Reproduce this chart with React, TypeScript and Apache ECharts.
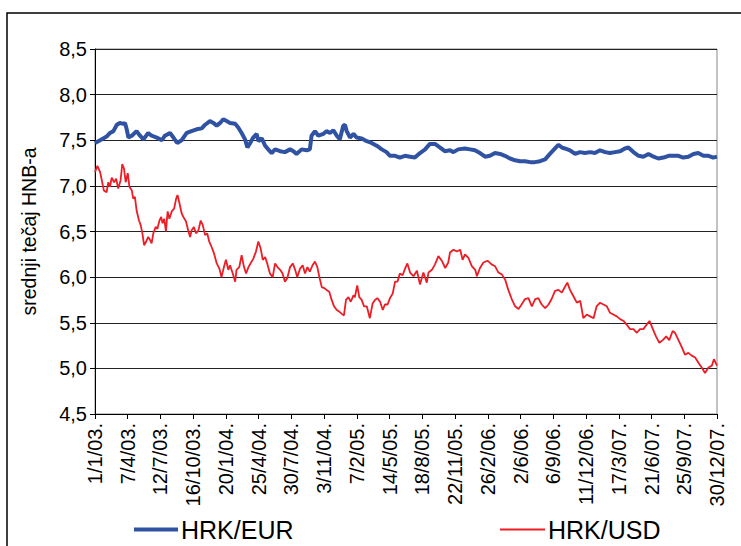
import React, { useEffect, useRef } from "react";
import * as echarts from "echarts";

// Days counted from 1/1/2003
const eurDays = [0,15,34,44,54,64,73,83,88,93,98,108,122,132,142,156,166,181,196,205,220,230,241,254,269,283,298,313,323,337,347,357,367,376,386,396,411,420,430,440,447,455,464,474,479,489,499,508,518,528,543,557,572,582,591,606,621,630,635,645,655,670,679,689,699,709,718,728,733,738,748,758,767,782,797,811,826,841,855,865,880,894,909,924,938,953,968,982,997,1012,1026,1041,1051,1065,1085,1100,1114,1129,1144,1158,1173,1188,1202,1217,1232,1246,1261,1276,1290,1305,1320,1334,1349,1359,1369,1378,1393,1408,1422,1437,1452,1466,1481,1496,1510,1525,1540,1554,1564,1579,1594,1608,1623,1638,1652,1667,1682,1696,1711,1725,1740,1755,1769,1784,1799,1813,1824];
const eurRates = [7.47,7.50,7.54,7.58,7.60,7.67,7.69,7.68,7.69,7.62,7.53,7.55,7.60,7.55,7.51,7.58,7.55,7.53,7.50,7.55,7.58,7.53,7.47,7.50,7.58,7.60,7.62,7.63,7.67,7.71,7.69,7.66,7.69,7.73,7.71,7.69,7.68,7.64,7.58,7.51,7.42,7.47,7.53,7.57,7.49,7.52,7.44,7.40,7.36,7.40,7.38,7.37,7.40,7.38,7.35,7.40,7.39,7.40,7.55,7.60,7.55,7.57,7.60,7.58,7.61,7.55,7.51,7.66,7.67,7.60,7.53,7.57,7.53,7.52,7.49,7.47,7.44,7.40,7.37,7.33,7.33,7.31,7.33,7.32,7.31,7.36,7.40,7.46,7.46,7.42,7.38,7.39,7.37,7.40,7.41,7.40,7.39,7.36,7.32,7.33,7.36,7.35,7.33,7.30,7.28,7.27,7.27,7.26,7.26,7.27,7.29,7.35,7.41,7.45,7.42,7.41,7.39,7.35,7.37,7.36,7.37,7.36,7.39,7.37,7.36,7.37,7.38,7.41,7.42,7.37,7.33,7.32,7.35,7.32,7.30,7.31,7.33,7.33,7.33,7.31,7.32,7.35,7.36,7.33,7.33,7.31,7.32];

const usdDays = [0,7,15,20,26,34,39,44,49,56,62,68,75,80,85,90,96,101,108,112,117,122,129,134,139,144,150,156,161,166,171,178,183,189,194,198,203,208,213,218,225,232,238,242,247,254,259,267,274,279,283,290,296,303,310,316,323,329,335,342,349,357,365,371,378,384,391,396,404,411,415,423,430,437,443,450,456,464,472,479,486,492,499,505,513,521,528,535,543,550,557,564,572,580,587,593,601,609,616,623,630,638,645,652,658,665,672,679,687,694,701,709,717,723,730,736,743,750,758,762,769,775,782,789,797,806,814,821,828,836,844,850,858,865,873,880,887,894,902,909,916,924,934,944,953,963,973,978,988,997,1007,1017,1027,1036,1041,1051,1061,1071,1078,1085,1095,1105,1115,1120,1129,1139,1151,1163,1173,1183,1193,1203,1212,1222,1232,1242,1251,1261,1271,1281,1291,1300,1310,1320,1330,1339,1349,1359,1369,1379,1385,1393,1403,1413,1423,1432,1442,1452,1462,1471,1481,1491,1501,1510,1520,1530,1540,1550,1559,1569,1579,1589,1598,1608,1618,1626,1636,1645,1655,1665,1675,1684,1694,1701,1711,1721,1730,1740,1750,1760,1770,1779,1789,1799,1809,1815,1824];
const usdRates = [7.15,7.22,7.15,7.06,6.95,6.93,7.04,6.99,7.09,7.04,7.08,6.97,7.06,7.24,7.19,7.04,7.14,6.99,6.95,6.86,6.88,6.73,6.62,6.57,6.48,6.35,6.39,6.44,6.41,6.37,6.48,6.55,6.53,6.62,6.66,6.59,6.64,6.50,6.72,6.64,6.72,6.75,6.86,6.90,6.82,6.70,6.66,6.61,6.50,6.44,6.51,6.55,6.48,6.51,6.62,6.57,6.46,6.48,6.39,6.33,6.26,6.15,6.09,6.00,6.11,6.19,6.08,6.13,6.04,5.95,6.08,6.11,6.24,6.11,6.04,6.11,6.15,6.20,6.28,6.39,6.31,6.19,6.22,6.15,6.04,6.00,6.15,6.11,6.08,6.04,5.95,5.99,6.11,6.15,6.08,6.00,6.09,6.13,6.04,6.11,6.06,6.13,6.17,6.11,6.00,5.89,5.88,5.86,5.84,5.75,5.68,5.64,5.62,5.60,5.58,5.75,5.78,5.73,5.80,5.78,5.91,5.78,5.75,5.68,5.68,5.55,5.71,5.75,5.77,5.73,5.64,5.70,5.70,5.77,5.82,5.95,5.95,6.04,6.02,6.09,6.15,6.05,6.01,6.07,5.92,6.05,5.94,6.05,6.08,6.14,6.23,6.18,6.10,6.16,6.27,6.30,6.28,6.30,6.19,6.25,6.21,6.12,6.08,6.01,6.10,6.16,6.18,6.14,6.12,6.05,6.03,5.97,5.86,5.76,5.68,5.65,5.70,5.76,5.77,5.68,5.76,5.77,5.70,5.66,5.70,5.76,5.85,5.86,5.83,5.90,5.94,5.86,5.79,5.72,5.74,5.55,5.59,5.57,5.55,5.68,5.72,5.70,5.68,5.61,5.59,5.57,5.54,5.52,5.48,5.43,5.43,5.39,5.43,5.43,5.48,5.52,5.43,5.35,5.28,5.31,5.35,5.31,5.41,5.39,5.31,5.23,5.15,5.17,5.14,5.12,5.06,5.01,4.95,5.01,5.03,5.10,5.03];

const seriesNames = ["HRK/EUR", "HRK/USD"];
const yAxisTitle = "srednji tečaj HNB-a";
const startDateUTC = Date.UTC(2003, 0, 1);

const FONT = "'Liberation Sans', Arial, sans-serif";

function dayLabel(d: number): string {
  const dt = new Date(startDateUTC + Math.round(d) * 86400000);
  const yy = String(dt.getUTCFullYear() % 100).padStart(2, "0");
  return `${dt.getUTCDate()}/${dt.getUTCMonth() + 1}/${yy}.`;
}

export default function App() {
  const ref = useRef<HTMLDivElement>(null);
  useEffect(() => {
    if (!ref.current) return;
    const chart = echarts.init(ref.current, undefined, { renderer: "svg" });
    chart.setOption({
      animation: false,
      backgroundColor: "#fff",
      textStyle: { fontFamily: FONT },
      graphic: [
        {
          type: "rect",
          shape: { x: 7, y: 13, width: 800, height: 600 },
          style: { fill: "none", stroke: "#000", lineWidth: 1.5 },
          silent: true,
        },
      ],
      grid: {
        left: 95,
        right: 24,
        top: 49,
        bottom: 132,
        show: true,
        borderColor: "#888",
        borderWidth: 1,
      },
      legend: [
        {
          data: [seriesNames[0]],
          left: 129,
          top: 512,
          icon: "rect",
          itemWidth: 44,
          itemHeight: 4,
          itemGap: 0,
          textStyle: { fontFamily: FONT, fontSize: 25, color: "#000", padding: [0, 0, 0, -2] },
        },
        {
          data: [seriesNames[1]],
          left: 495,
          top: 512,
          icon: "rect",
          itemWidth: 45,
          itemHeight: 2,
          itemGap: 0,
          textStyle: { fontFamily: FONT, fontSize: 25, color: "#000", padding: [0, 0, 0, -2] },
        },
      ],
      xAxis: {
        type: "value",
        min: 0,
        max: 1824,
        interval: 96,
        axisLine: { show: true, lineStyle: { color: "#000", width: 1 } },
        axisTick: { show: true, length: 5, lineStyle: { color: "#000" } },
        splitLine: { show: false },
        axisLabel: {
          rotate: 90,
          margin: 9,
          fontSize: 20,
          fontFamily: FONT,
          color: "#000",
          formatter: (v: number) => dayLabel(v),
        },
      },
      yAxis: {
        type: "value",
        min: 4.5,
        max: 8.5,
        interval: 0.5,
        name: yAxisTitle,
        nameLocation: "middle",
        nameGap: 56,
        nameRotate: 90,
        nameTextStyle: { fontFamily: FONT, fontSize: 19.5, color: "#000" },
        axisLine: { show: true, lineStyle: { color: "#000", width: 1 } },
        axisTick: { show: true, length: 5, lineStyle: { color: "#000" } },
        splitLine: { show: true, lineStyle: { color: "#222", width: 1 } },
        axisLabel: {
          margin: 8,
          fontSize: 20,
          fontFamily: FONT,
          color: "#000",
          formatter: (v: number) => v.toFixed(1).replace(".", ","),
        },
      },
      series: [
        {
          name: seriesNames[0],
          type: "line",
          showSymbol: false,
          data: eurDays.map((d, i) => [d, eurRates[i]]),
          lineStyle: { color: "#2F52A3", width: 4 },
          itemStyle: { color: "#2F52A3" },
        },
        {
          name: seriesNames[1],
          type: "line",
          showSymbol: false,
          data: usdDays.map((d, i) => [d, usdRates[i]]),
          lineStyle: { color: "#EE1C25", width: 1.8 },
          itemStyle: { color: "#EE1C25" },
        },
      ],
    });
    return () => chart.dispose();
  }, []);
  return (
    <div
      ref={ref}
      style={{ position: "fixed", left: 0, top: 0, width: 741, height: 546, background: "#fff" }}
    />
  );
}
